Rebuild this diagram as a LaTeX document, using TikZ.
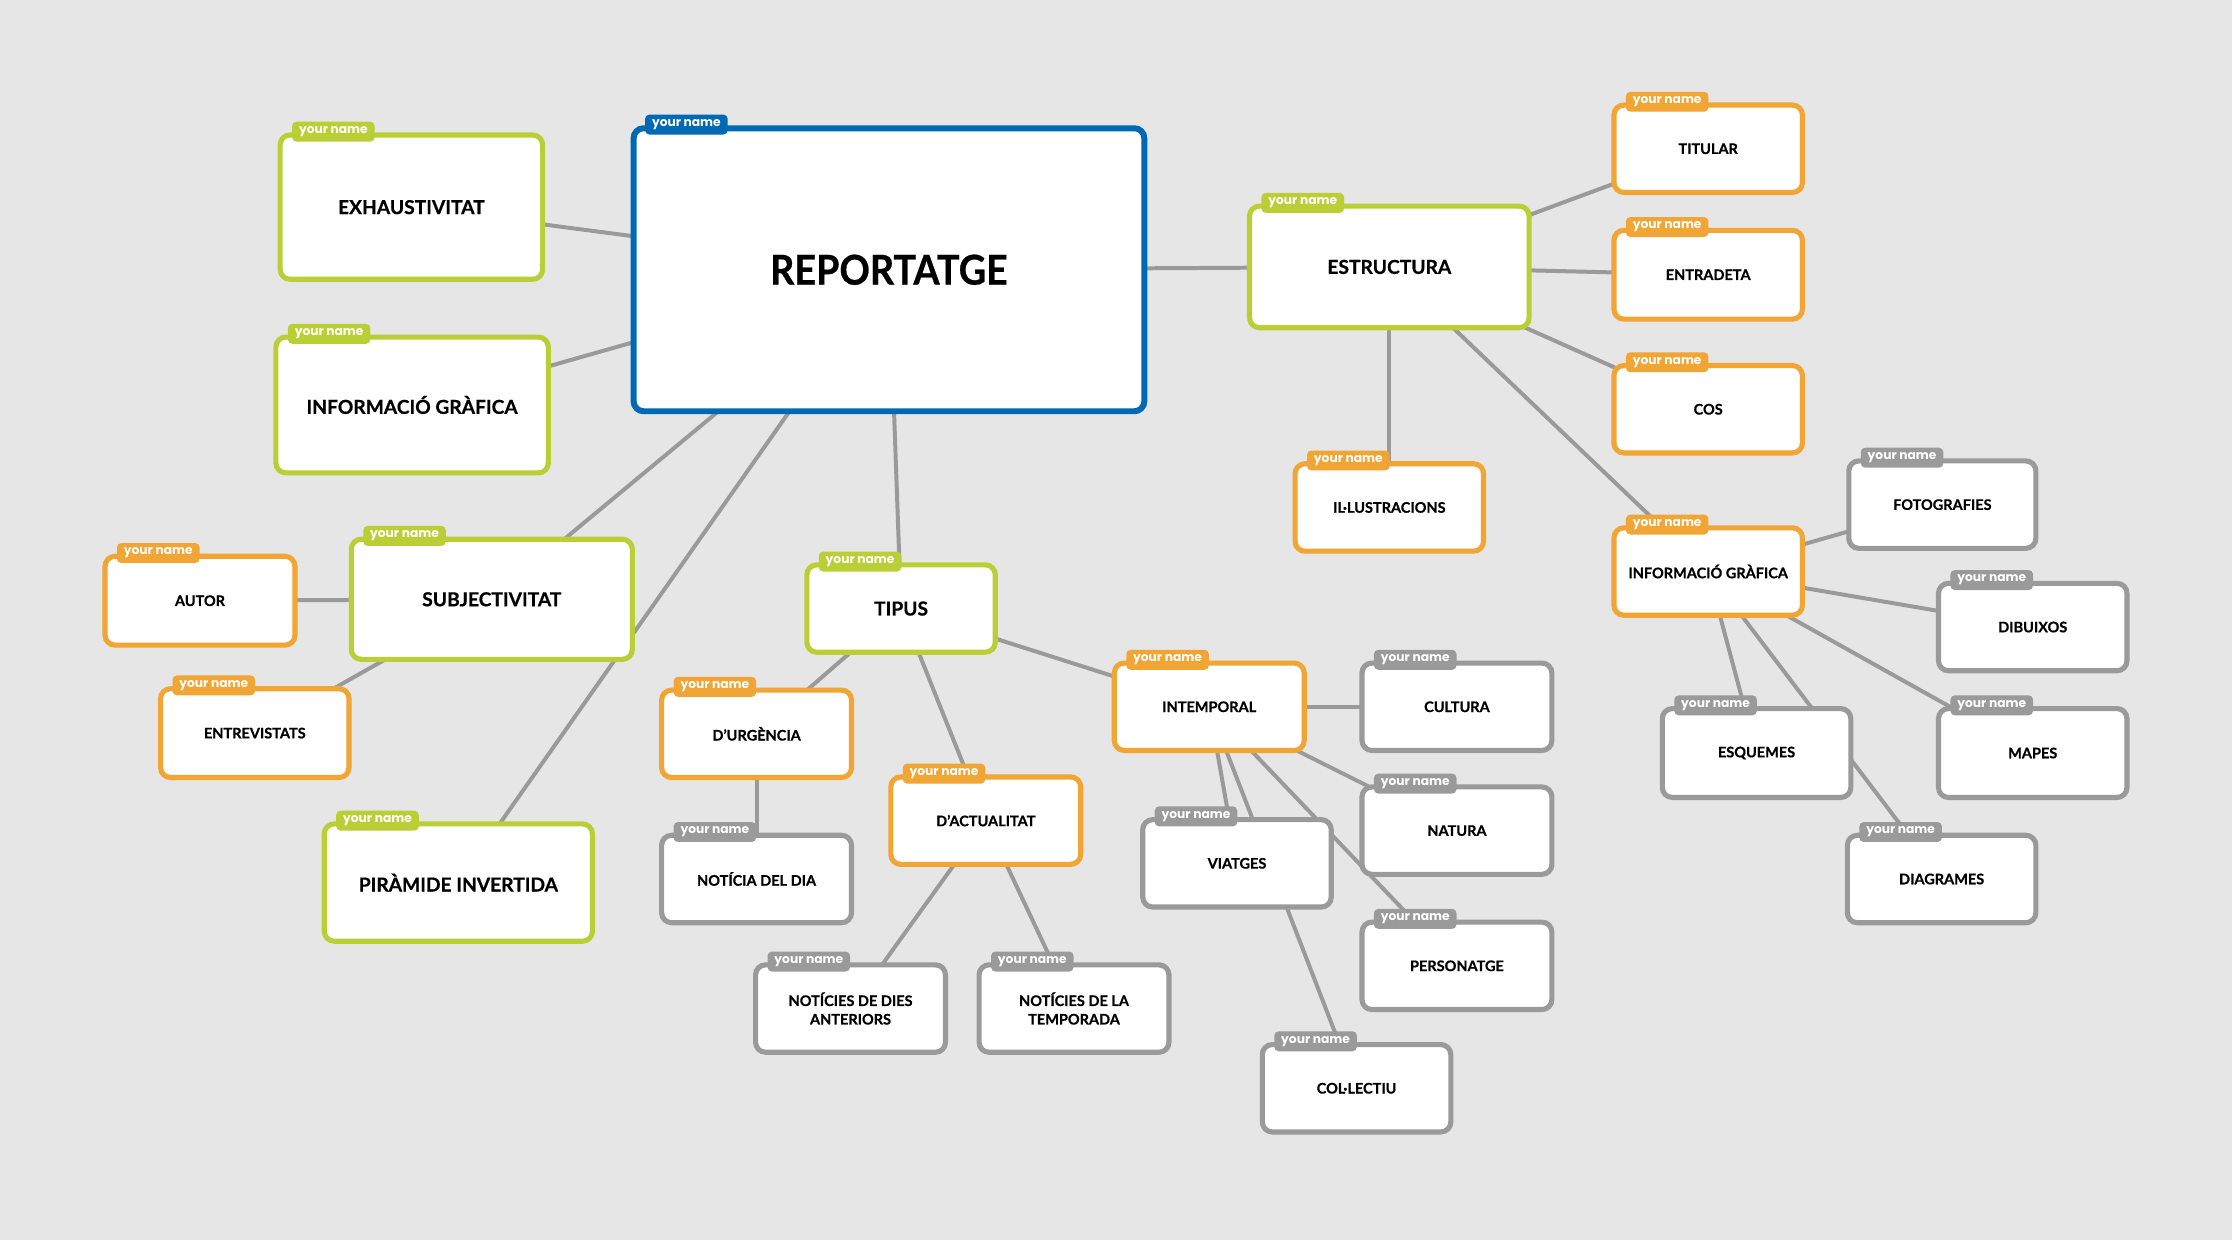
\documentclass[tikz,border=0pt]{standalone}
\usepackage{fontspec}
\setmainfont{Lato}[BoldFeatures={FakeBold=0.6}]
\newfontfamily\tabfont{Poppins}
\usetikzlibrary{calc}
\pgfdeclarelayer{bgl}
\pgfdeclarelayer{lines}
\pgfsetlayers{bgl,lines,main}
\definecolor{mmblue}{HTML}{0069B4}
\definecolor{mmgreen}{HTML}{BACF36}
\definecolor{mmorange}{HTML}{F0A534}
\definecolor{mmgray}{HTML}{9A9A9A}
\definecolor{mmbg}{HTML}{E6E6E6}
\newcommand\fbig{\bfseries\fontsize{28.8}{32}\selectfont}
\newcommand\fmid{\bfseries\fontsize{13.5}{16}\selectfont}
\newcommand\fsml{\bfseries\fontsize{10.2}{13}\selectfont}
\tikzset{
  mmbox/.style={draw=#1, fill=white, line width=3.6pt, rounded corners=7pt,
    inner sep=2pt, align=center, text=black},
  tabnode/.style={fill=#1, text=white, rounded corners=3pt, inner sep=0pt,
    minimum width=58pt, minimum height=14pt,
    font=\tabfont\bfseries\fontsize{8.6}{10}\selectfont},
  conn/.style={draw=mmgray, line width=2.8pt}
}
% name, x1, y1, x2, y2, colour, font, text
\newcommand\boxnode[8]{%
  \node[mmbox=#6, minimum width={#4-#2-3.6}, minimum height={#5-#3-3.6}, font=#7]
    (#1) at ({(#2+#4)/2},{(#3+#5)/2}) {#8};
  \node[tabnode=#6, anchor=west] (#1tab) at ($(#1.north west)+(10,-0.5)$) {your name};
}
\begin{document}
\begin{tikzpicture}[x=1pt,y=-1pt]
\begin{pgfonlayer}{bgl}
  \fill[mmbg] (0,0) rectangle (1568,871.1);
\end{pgfonlayer}
\useasboundingbox (0,0) rectangle (1568,871.1);

\node[mmbox=mmblue, line width=4.2pt, minimum width=358.8pt, minimum height=198.8pt,
  font=\fbig] (rep) at (624.5,189.5) {\scalebox{0.92}[1]{REPORTATGE}};
\node[tabnode=mmblue, anchor=west] (reptab) at ($(rep.north west)+(10,-0.5)$) {your name};

\boxnode{exh}{195}{93}{383}{198}{mmgreen}{\fmid}{EXHAUSTIVITAT}
\boxnode{infg}{192}{235}{387}{334}{mmgreen}{\fmid}{INFORMACIÓ GRÀFICA}
\boxnode{subj}{245}{377}{446}{465}{mmgreen}{\fmid}{SUBJECTIVITAT}
\boxnode{autor}{72}{389}{209}{455}{mmorange}{\fsml}{AUTOR}
\boxnode{entrev}{111}{482}{247}{548}{mmorange}{\fsml}{ENTREVISTATS}
\boxnode{pir}{226}{577}{418}{663}{mmgreen}{\fmid}{PIRÀMIDE INVERTIDA}
\boxnode{tipus}{565}{395}{701}{460}{mmgreen}{\fmid}{TIPUS}
\boxnode{urg}{463}{483}{600}{548}{mmorange}{\fsml}{D’URGÈNCIA}
\boxnode{dia}{463}{585}{600}{650}{mmgray}{\fsml}{NOTÍCIA DEL DIA}
\boxnode{act}{624}{544}{761}{609}{mmorange}{\fsml}{D’ACTUALITAT}
\boxnode{ant}{529}{676}{666}{741}{mmgray}{\fsml}{NOTÍCIES DE DIES\\ANTERIORS}
\boxnode{temp}{686}{676}{823}{741}{mmgray}{\fsml}{NOTÍCIES DE LA\\TEMPORADA}
\boxnode{intemp}{781}{464}{918}{529}{mmorange}{\fsml}{INTEMPORAL}
\boxnode{cult}{955}{464}{1092}{529}{mmgray}{\fsml}{CULTURA}
\boxnode{nat}{955}{551}{1092}{616}{mmgray}{\fsml}{NATURA}
\boxnode{viat}{801}{574}{937}{639}{mmgray}{\fsml}{VIATGES}
\boxnode{pers}{955}{646}{1092}{711}{mmgray}{\fsml}{PERSONATGE}
\boxnode{col}{885}{732}{1021}{797}{mmgray}{\fsml}{COL·LECTIU}
\boxnode{estr}{876}{143}{1076}{232}{mmgreen}{\fmid}{ESTRUCTURA}
\boxnode{tit}{1132}{72}{1268}{137}{mmorange}{\fsml}{TITULAR}
\boxnode{entr}{1132}{160}{1268}{226}{mmorange}{\fsml}{ENTRADETA}
\boxnode{cos}{1132}{255}{1268}{320}{mmorange}{\fsml}{COS}
\boxnode{ill}{908}{324}{1044}{389}{mmorange}{\fsml}{IL·LUSTRACIONS}
\boxnode{infgb}{1132}{369}{1268}{434}{mmorange}{\fsml}{INFORMACIÓ GRÀFICA}
\boxnode{foto}{1297}{322}{1432}{387}{mmgray}{\fsml}{FOTOGRAFIES}
\boxnode{dib}{1360}{408}{1496}{473}{mmgray}{\fsml}{DIBUIXOS}
\boxnode{esq}{1166}{496}{1302}{562}{mmgray}{\fsml}{ESQUEMES}
\boxnode{mapes}{1360}{496}{1496}{562}{mmgray}{\fsml}{MAPES}
\boxnode{diag}{1296}{585}{1432}{650}{mmgray}{\fsml}{DIAGRAMES}

\begin{pgfonlayer}{lines}
  \foreach \a/\b in {rep/exh, rep/infg, rep/subj, rep/pir, rep/tipus, rep/estr,
      subj/autor, subj/entrev, tipus/urg, tipus/act, tipus/intemp,
      urg/dia, act/ant, act/temp,
      intemp/cult, intemp/nat, intemp/viat, intemp/pers, intemp/col,
      estr/tit, estr/entr, estr/cos, estr/ill, estr/infgb,
      infgb/foto, infgb/dib, infgb/esq, infgb/mapes, infgb/diag}
    \draw[conn] (\a.center) -- (\b.center);
\end{pgfonlayer}
\end{tikzpicture}
\end{document}
